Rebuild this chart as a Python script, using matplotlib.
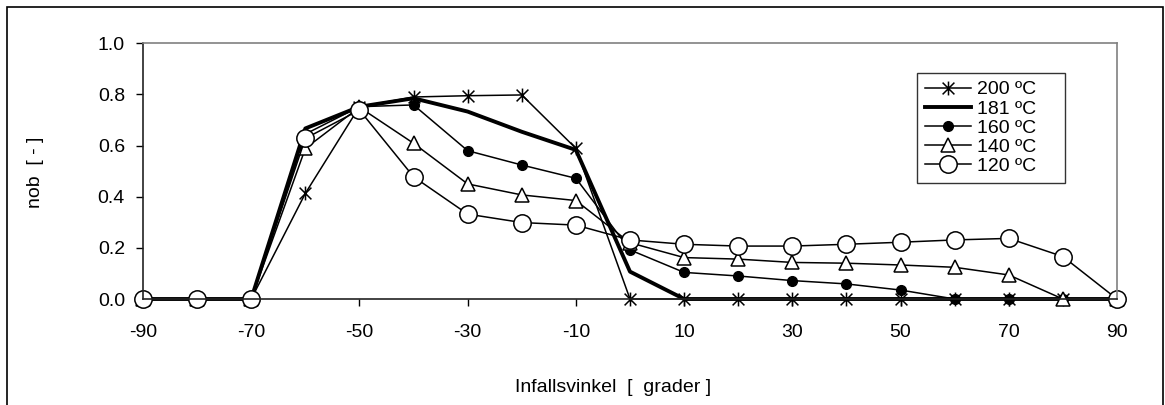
import matplotlib
matplotlib.use("Agg")
from matplotlib import pyplot as plt
from matplotlib.path import Path
from matplotlib.patches import Rectangle

plt.rcParams['font.family'] = ['Liberation Sans', 'DejaVu Sans']

angles = [-90, -80, -70, -60, -50, -40, -30, -20, -10, 0, 10, 20, 30, 40, 50, 60, 70, 80, 90]

nob_200 = [0, 0, 0, 0.413, 0.752, 0.790, 0.795, 0.798, 0.589, 0, 0, 0, 0, 0, 0, 0, 0, 0, 0]
nob_181 = [0, 0, 0, 0.667, 0.752, 0.785, 0.733, 0.654, 0.583, 0.107, 0, 0, 0, 0, 0, 0, 0, 0, 0]
nob_160 = [0, 0, 0, 0.645, 0.752, 0.759, 0.580, 0.524, 0.472, 0.192, 0.104, 0.090, 0.072, 0.059, 0.035, 0, 0, 0, 0]
nob_140 = [0, 0, 0, 0.589, 0.750, 0.609, 0.450, 0.407, 0.385, 0.220, 0.162, 0.156, 0.143, 0.140, 0.133, 0.124, 0.094, 0, 0]
nob_120 = [0, 0, 0, 0.628, 0.739, 0.478, 0.332, 0.299, 0.289, 0.231, 0.214, 0.207, 0.207, 0.214, 0.222, 0.231, 0.237, 0.166, 0]

labels = ['200 ºC', '181 ºC', '160 ºC', '140 ºC', '120 ºC']
xticks = [-90, -70, -50, -30, -10, 10, 30, 50, 70, 90]
yticks = [0.0, 0.2, 0.4, 0.6, 0.8, 1.0]

# asterisk: one vertical stroke plus two diagonals
star = Path([(0, -1), (0, 1), (-0.85, -0.85), (0.85, 0.85), (-0.85, 0.85), (0.85, -0.85)],
            [Path.MOVETO, Path.LINETO, Path.MOVETO, Path.LINETO, Path.MOVETO, Path.LINETO])

W, H = 1165, 405
fig = plt.figure(figsize=(W / 100, H / 100), dpi=100)
ax = fig.add_axes([143 / W, 1 - 299 / H, (1117 - 143) / W, (299 - 43.3) / H])

fs = 14

ax.plot(angles, nob_200, color='black', lw=1.1, marker=star, ms=10, mew=1.1,
        label=labels[0], clip_on=False)
ax.plot(angles, nob_181, color='black', lw=2.8, label=labels[1], clip_on=False)
ax.plot(angles, nob_160, color='black', lw=1.1, marker='o', ms=7, mfc='black',
        label=labels[2], clip_on=False)
ax.plot(angles, nob_140, color='black', lw=1.1, marker='^', ms=10, mfc='white', mew=1.1,
        label=labels[3], clip_on=False)
ax.plot(angles, nob_120, color='black', lw=1.1, marker='o', ms=12.5, mfc='white', mew=1.1,
        label=labels[4], clip_on=False)

ax.set_xlim(-90, 90)
ax.set_ylim(0, 1.0)
ax.set_xticks(xticks)
ax.set_xticklabels([str(t) for t in xticks])
ax.set_yticks(yticks)
ax.set_yticklabels([f'{t:.1f}' for t in yticks])
ax.tick_params(axis='x', direction='out', length=5, width=1, pad=13, labelsize=fs)
ax.tick_params(axis='y', direction='out', length=5, width=1, pad=8, labelsize=fs)

for side in ['top', 'right']:
    ax.spines[side].set_color('#808080')
    ax.spines[side].set_linewidth(1.2)
for side in ['left', 'bottom']:
    ax.spines[side].set_color('#222222')
    ax.spines[side].set_linewidth(1.2)

# legend box pinned to a fixed width
leg_x0 = (917 - 143) / 974
leg_y1 = (299 - 73) / 255.7
leg_w = (1065 - 917) / 974
leg = ax.legend(loc='upper left', bbox_to_anchor=(leg_x0, leg_y1 - 0.5, leg_w, 0.5), mode='expand',
                fontsize=fs, frameon=True, fancybox=False, edgecolor='black',
                handlelength=2.4, labelspacing=0.08, borderpad=0.4, handletextpad=0.3,
                borderaxespad=0)
leg.get_frame().set_linewidth(1.0)

fig.text(35 / W, 1 - 172 / H, 'nob  [ - ]', rotation=90, ha='center', va='center', fontsize=fs)
fig.text(613 / W, 1 - 388 / H, 'Infallsvinkel  [  grader ]', ha='center', va='center', fontsize=fs)

# outer chart border
fig.patches.append(Rectangle((7 / W, -0.05), (1163 - 7) / W, 1 - 7 / H + 0.05,
                             transform=fig.transFigure, fill=False, edgecolor='black', lw=1.2))

fig.savefig('out.png', dpi=100)
